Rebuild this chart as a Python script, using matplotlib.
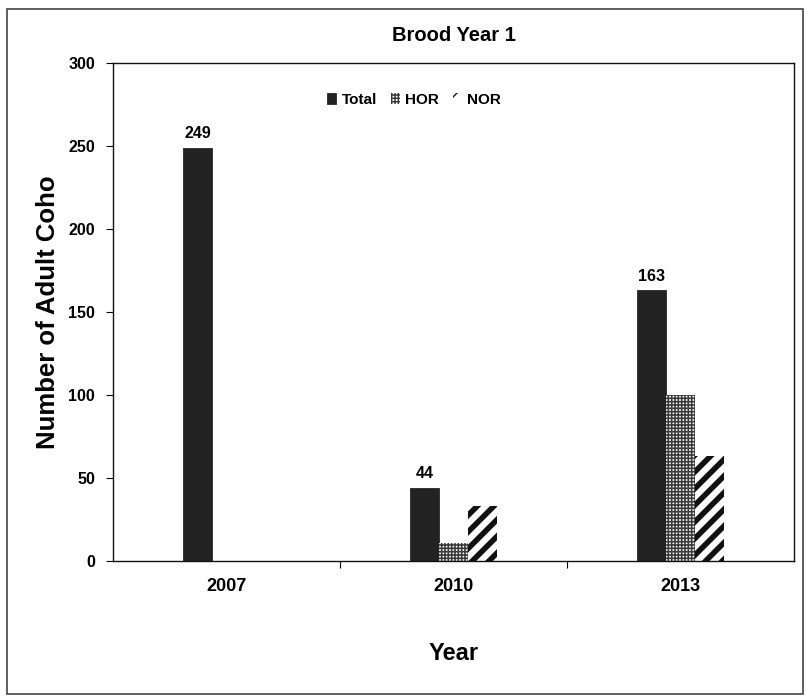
import matplotlib
matplotlib.use("Agg")
import matplotlib.pyplot as plt
from matplotlib.patches import Rectangle
from matplotlib.ticker import FixedLocator
import numpy as np

# Adult coho returns by brood year
years = ["2007", "2010", "2013"]
total = [249, 44, 163]
hor = [0, 11, 100]
nor = [0, 33, 63]
total_labels = ["249", "44", "163"]

plt.rcParams["font.family"] = ["Liberation Sans", "DejaVu Sans"]
plt.rcParams["font.weight"] = "bold"

fig = plt.figure(figsize=(8.06, 6.98), dpi=100)
ax = fig.add_axes([113 / 806, 1 - 561 / 698, 681 / 806, 498 / 698])

x = np.arange(len(years))
w = 0.127

with plt.rc_context({"hatch.linewidth": 1.1}):
    b_total = ax.bar(x - w, total, w, color="#222222", edgecolor="#111111",
                     linewidth=0.5, label="Total")
    b_hor = ax.bar(x, hor, w, facecolor="#f4f4f4", edgecolor="#3a3a3a",
                   linewidth=0, hatch="+++++", label="HOR")
with plt.rc_context({"hatch.linewidth": 4.0}):
    b_nor = ax.bar(x + w, nor, w, facecolor="white", edgecolor="#111111",
                   linewidth=0, hatch="//", label="NOR")

for xi, v, s in zip(x, total, total_labels):
    ax.text(xi - w, v + 4, s, ha="center", va="bottom",
            fontsize=11.5, fontweight="bold")

ax.set_xlim(-0.5, 2.5)
ax.set_ylim(0, 300)
ax.set_yticks(np.arange(0, 301, 50))
ax.set_xticks(x)
ax.set_xticklabels(years)
ax.xaxis.set_minor_locator(FixedLocator([0.5, 1.5]))
ax.tick_params(axis="x", which="major", length=0, pad=12, labelsize=13)
ax.tick_params(axis="x", which="minor", length=5, direction="out", width=0.8)
ax.tick_params(axis="y", length=5, direction="out", width=0.8, pad=8,
               labelsize=11.5)
for lab in ax.get_xticklabels() + ax.get_yticklabels():
    lab.set_fontweight("bold")
for sp in ax.spines.values():
    sp.set_linewidth(1.0)
    sp.set_color("#111111")

ax.set_title("Brood Year 1", fontsize=14.5, fontweight="bold", pad=16)
ax.set_ylabel("Number of Adult Coho", fontsize=18.5, fontweight="bold",
              labelpad=6)
ax.set_xlabel("Year", fontsize=17, fontweight="bold", labelpad=34)

leg = ax.legend(loc="center", bbox_to_anchor=(0.442, 0.926), ncol=3,
                frameon=False, handlelength=0.6,
                handleheight=0.7, handletextpad=0.35, columnspacing=0.9,
                prop={"weight": "bold", "size": 11})

# outer border of the figure
fig.patches.append(Rectangle((7 / 806, 1 - 694 / 698), 796 / 806, 685 / 698,
                             transform=fig.transFigure, fill=False,
                             edgecolor="#444444", linewidth=1.2))

fig.savefig("out.png", dpi=100)
